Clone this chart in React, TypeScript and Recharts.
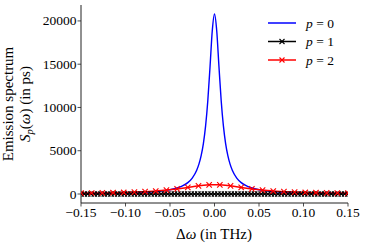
import { LineChart, Line, XAxis, YAxis, Legend } from 'recharts';

// p = 0 (blue, smooth line)
const blueX = [
  -0.15, -0.125, -0.1, -0.08, -0.06, -0.05, -0.04, -0.035, -0.03, -0.025, -0.02, -0.0175, -0.015, -0.0125, -0.01,
  -0.0075, -0.005, -0.0025, 0, 0.0025, 0.005, 0.0075, 0.01, 0.0125, 0.015, 0.0175, 0.02, 0.025, 0.03, 0.035, 0.04,
  0.05, 0.06, 0.08, 0.1, 0.125, 0.15,
];
const blueY = [
  56, 81, 126, 196, 346, 494, 762, 986, 1317, 1845, 2746, 3450, 4430, 5830, 7870,
  10810, 14740, 18860, 20800, 18860, 14740, 10810, 7870, 5830, 4430, 3450, 2746, 1845, 1317, 986, 762,
  494, 346, 196, 126, 81, 56,
];

// p = 1 (black, dense x markers, sits on zero)
const blackX = [
  -0.15, -0.14625, -0.1425, -0.13875, -0.135, -0.13125, -0.1275, -0.12375, -0.12, -0.11625, -0.1125, -0.10875,
  -0.105, -0.10125, -0.0975, -0.09375, -0.09, -0.08625, -0.0825, -0.07875, -0.075, -0.07125, -0.0675, -0.06375,
  -0.06, -0.05625, -0.0525, -0.04875, -0.045, -0.04125, -0.0375, -0.03375, -0.03, -0.02625, -0.0225, -0.01875,
  -0.015, -0.01125, -0.0075, -0.00375, 0, 0.00375, 0.0075, 0.01125, 0.015, 0.01875, 0.0225, 0.02625, 0.03,
  0.03375, 0.0375, 0.04125, 0.045, 0.04875, 0.0525, 0.05625, 0.06, 0.06375, 0.0675, 0.07125, 0.075, 0.07875,
  0.0825, 0.08625, 0.09, 0.09375, 0.0975, 0.10125, 0.105, 0.10875, 0.1125, 0.11625, 0.12, 0.12375, 0.1275,
  0.13125, 0.135, 0.13875, 0.1425, 0.14625, 0.15,
];
const blackY = [
  0, 0, 0, 0, 0, 0, 0, 0, 0, 0, 0, 0, 0, 0, 0, 0, 0, 0, 0, 0, 0, 0, 0, 0, 0, 0, 0, 0, 0, 0, 0, 0, 0, 0, 0, 0, 0,
  0, 0, 0, 0, 0, 0, 0, 0, 0, 0, 0, 0, 0, 0, 0, 0, 0, 0, 0, 0, 0, 0, 0, 0, 0, 0, 0, 0, 0, 0, 0, 0, 0, 0, 0, 0, 0,
  0, 0, 0, 0, 0, 0, 0,
];

// p = 2 (red, x markers)
const redX = [
  -0.15, -0.138, -0.126, -0.114, -0.102, -0.09, -0.078, -0.066, -0.054, -0.042, -0.03, -0.018, -0.006,
  0.006, 0.018, 0.03, 0.042, 0.054, 0.066, 0.078, 0.09, 0.102, 0.114, 0.126, 0.138, 0.15,
];
const redY = [
  105, 115, 130, 150, 180, 220, 270, 340, 450, 590, 760, 940, 1060,
  1060, 940, 760, 590, 450, 340, 270, 220, 180, 150, 130, 115, 105,
];

const xTicks = [-0.15, -0.1, -0.05, 0, 0.05, 0.1, 0.15];
const yTicks = [0, 5000, 10000, 15000, 20000];

const legendLabels = ['0', '1', '2'];
const seriesColors = ['#0000ff', '#000000', '#ff0000'];

const zip = (xs: number[], ys: number[]) => xs.map((x, i) => ({ x, y: ys[i] }));

const FONT = 'Liberation Serif';
const AXIS = '#222';

function Cross(props: any) {
  const { cx, cy, stroke, size = 2.7 } = props;
  if (cx == null || cy == null) return null;
  const s = size;
  return (
    <path
      d={`M${cx - s},${cy - s}L${cx + s},${cy + s}M${cx - s},${cy + s}L${cx + s},${cy - s}`}
      stroke={stroke}
      strokeWidth={1.1}
      fill="none"
    />
  );
}

function fmtX(v: number) {
  return v.toFixed(2).replace('-', '\u2212');
}

function XTick(props: any) {
  const { x, y, payload } = props;
  return (
    <text x={x} y={y + 10.5} textAnchor="middle" fontFamily={FONT} fontSize={13.5} fill="#000">
      {fmtX(payload.value)}
    </text>
  );
}

function YTick(props: any) {
  const { x, y, payload } = props;
  return (
    <text x={x} y={y + 4.5} textAnchor="end" fontFamily={FONT} fontSize={13.5} fill="#000">
      {payload.value}
    </text>
  );
}

function YLabel() {
  return (
    <g fontFamily={FONT} fontSize={15} fill="#000">
      <text x={13} y={104} textAnchor="middle" transform="rotate(-90, 13, 104)">
        Emission spectrum
      </text>
      <text x={30} y={104} textAnchor="middle" transform="rotate(-90, 30, 104)">
        <tspan fontStyle="italic">S</tspan>
        <tspan fontStyle="italic" fontSize={10.5} dy={3}>p</tspan>
        <tspan dy={-3}>(</tspan>
        <tspan fontStyle="italic">ω</tspan>
        <tspan>) (in ps)</tspan>
      </text>
    </g>
  );
}

function XLabel() {
  return (
    <text x={214} y={239} textAnchor="middle" fontFamily={FONT} fontSize={15} fill="#000">
      <tspan>Δ</tspan>
      <tspan fontStyle="italic">ω</tspan>
      <tspan> (in THz)</tspan>
    </text>
  );
}

function LegendBox() {
  return (
    <svg width={100} height={62} style={{ display: 'block' }}>
      {legendLabels.map((lab, i) => {
        const y = 13 + 18.5 * i;
        return (
          <g key={lab}>
            <line x1={6} x2={34} y1={y} y2={y} stroke={seriesColors[i]} strokeWidth={1.5} />
            {i > 0 && <Cross cx={20} cy={y} stroke={seriesColors[i]} size={2.5} />}
            <text x={44} y={y + 4.5} fontFamily={FONT} fontSize={13.5} fill="#000">
              <tspan fontStyle="italic">p</tspan>
              <tspan> = {lab}</tspan>
            </text>
          </g>
        );
      })}
    </svg>
  );
}

export default function App() {
  return (
    <div style={{ position: 'absolute', left: 0, top: 0, background: '#fff' }}>
      <LineChart width={365} height={250} margin={{ top: 5, right: 17, bottom: 0, left: 0 }}>
        <XAxis
          dataKey="x"
          type="number"
          domain={[-0.15, 0.15]}
          ticks={xTicks}
          allowDataOverflow
          height={47}
          tickSize={3.5}
          tickMargin={0}
          tick={<XTick />}
          axisLine={{ stroke: AXIS, strokeWidth: 1 }}
          tickLine={{ stroke: AXIS, strokeWidth: 0.8 }}
          label={<XLabel />}
        />
        <XAxis
          xAxisId="top"
          orientation="top"
          type="number"
          domain={[-0.15, 0.15]}
          height={0}
          tick={false}
          tickLine={false}
          axisLine={{ stroke: AXIS, strokeWidth: 1 }}
        />
        <YAxis
          type="number"
          domain={[-1040, 21840]}
          ticks={yTicks}
          allowDataOverflow
          width={81}
          tickSize={3.5}
          tickMargin={1}
          tick={<YTick />}
          axisLine={{ stroke: AXIS, strokeWidth: 1 }}
          tickLine={{ stroke: AXIS, strokeWidth: 0.8 }}
          label={<YLabel />}
        />
        <YAxis
          yAxisId="right"
          orientation="right"
          width={0}
          tick={false}
          tickLine={false}
          axisLine={{ stroke: AXIS, strokeWidth: 1 }}
        />
        <Legend
          layout="vertical"
          align="center"
          verticalAlign="middle"
          wrapperStyle={{ top: 10, left: 262, width: 100, height: 62 }}
          content={() => <LegendBox />}
        />
        <Line
          data={zip(blueX, blueY)}
          dataKey="y"
          name="p = 0"
          type="monotone"
          stroke={seriesColors[0]}
          strokeWidth={1.4}
          dot={false}
          activeDot={false}
          isAnimationActive={false}
        />
        <Line
          data={zip(blackX, blackY)}
          dataKey="y"
          name="p = 1"
          type="linear"
          stroke={seriesColors[1]}
          strokeWidth={1.5}
          dot={(p: any) => <Cross key={p.index} cx={p.cx} cy={p.cy} stroke={seriesColors[1]} />}
          activeDot={false}
          isAnimationActive={false}
        />
        <Line
          data={zip(redX, redY)}
          dataKey="y"
          name="p = 2"
          type="linear"
          stroke={seriesColors[2]}
          strokeWidth={1.5}
          dot={(p: any) => <Cross key={p.index} cx={p.cx} cy={p.cy} stroke={seriesColors[2]} />}
          activeDot={false}
          isAnimationActive={false}
        />
      </LineChart>
    </div>
  );
}
